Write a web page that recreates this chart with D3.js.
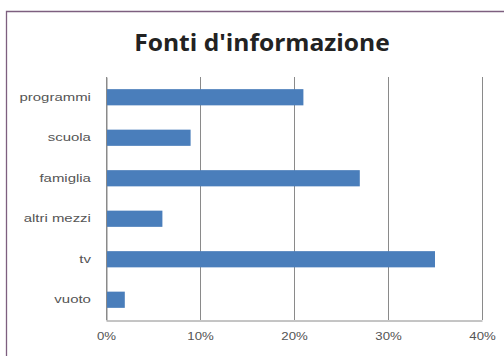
<!DOCTYPE html>
<html>
<head>
<script src="https://cdn.jsdelivr.net/npm/d3@7"></script>
<style>
  body { margin: 0; background: #fff; overflow: hidden; }
  svg { display: block; font-family: "Open Sans", Calibri, sans-serif; }
</style>
</head>
<body>
<script>
// values
var categories = ["programmi", "scuola", "famiglia", "altri mezzi", "tv", "vuoto"];
var values = [0.21, 0.09, 0.27, 0.06, 0.35, 0.02];
var ticks = [0, 0.1, 0.2, 0.3, 0.4];

var W = 504, H = 356;
var svg = d3.select("body").append("svg").attr("width", W).attr("height", H);

// chart frame, only top and left edges are in view
svg.append("path")
  .attr("d", "M6.5," + H + "V11.5H" + W)
  .attr("fill", "none")
  .attr("stroke", "#7d5f7f").attr("stroke-width", 1.3);

svg.append("text")
  .attr("transform", "translate(262,51) scale(1.07,1)")
  .attr("text-anchor", "middle")
  .attr("font-size", 23).attr("font-weight", "bold")
  .attr("fill", "#222")
  .text("Fonti d'informazione");

var x = d3.scaleLinear().domain([0, 0.4]).range([106, 482]);
var y = d3.scaleBand().domain(categories).range([77, 320]).paddingInner(0.6).paddingOuter(0.3);

// gridlines
svg.append("g").selectAll("line").data(ticks).enter().append("line")
  .attr("x1", function(d){ return Math.round(x(d)) + 0.5; })
  .attr("x2", function(d){ return Math.round(x(d)) + 0.5; })
  .attr("y1", 77).attr("y2", 320)
  .attr("stroke", "#8a8a8a");

var xAxis = svg.append("g").attr("transform", "translate(0,320.5)")
  .call(d3.axisBottom(x).tickValues(ticks).tickFormat(d3.format(".0%")).tickSize(0).tickPadding(12));
xAxis.select(".domain").attr("stroke", "#8a8a8a");
xAxis.selectAll("text").attr("font-size", 11).attr("fill", "#555")
  .attr("transform", "scale(1.2,1)")
  .attr("x", 0);

var yAxis = svg.append("g").attr("transform", "translate(106.5,0)")
  .call(d3.axisLeft(y).tickSize(0).tickPadding(12));
yAxis.select(".domain").attr("stroke", "#8a8a8a");
yAxis.selectAll("text").attr("font-size", 11.5).attr("fill", "#555")
  .attr("transform", "scale(1.3,1)");

svg.append("g").selectAll("rect").data(categories).enter().append("rect")
  .attr("x", x(0) + 1)
  .attr("y", function(d){ return y(d); })
  .attr("width", function(d, i){ return x(values[i]) - x(0) - 1; })
  .attr("height", y.bandwidth())
  .attr("fill", "#4a7ebb");
</script>
</body>
</html>
